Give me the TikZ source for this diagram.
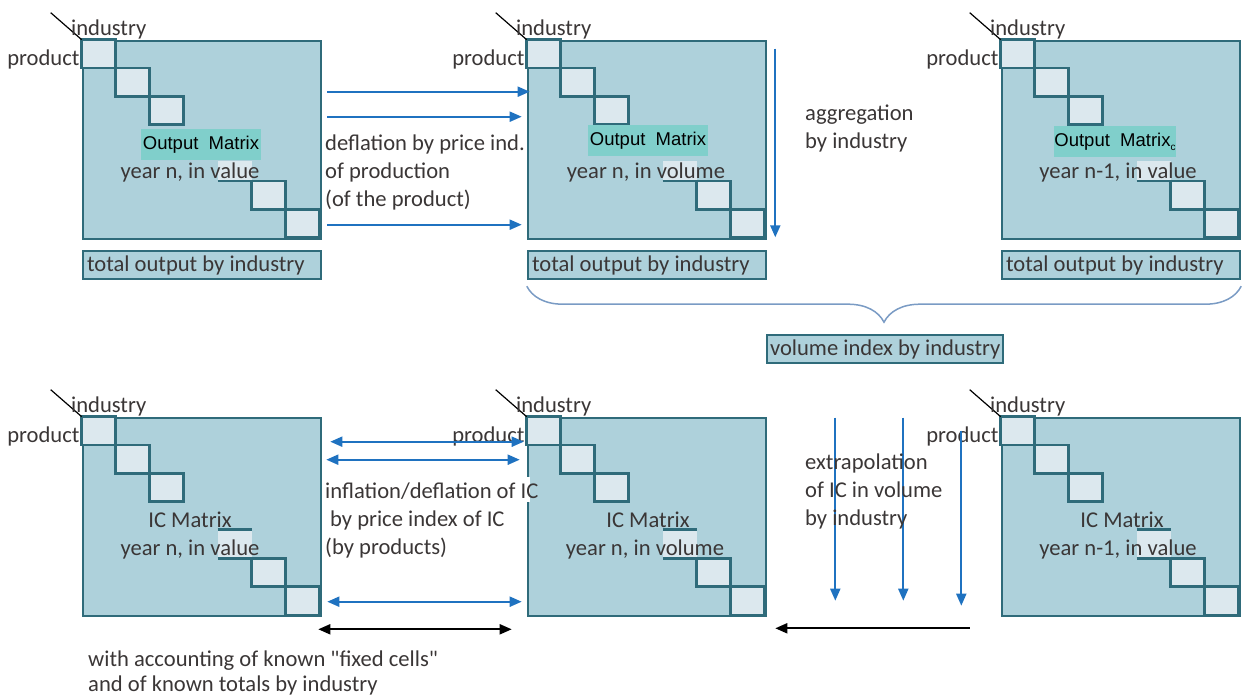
\documentclass[tikz,border=0pt]{standalone}
\usepackage{fontspec}
\setmainfont{Carlito}[Ligatures=TeXOff]
\newfontfamily\arialfont{Liberation Sans}
\usetikzlibrary{arrows.meta, positioning, calc, decorations.pathreplacing}

\definecolor{matfill}{HTML}{AED1DB}
\definecolor{matline}{HTML}{2F6B7A}
\definecolor{cellfill}{HTML}{DCE8EE}
\definecolor{tealbg}{HTML}{80CFCB}
\definecolor{arrblue}{HTML}{1F72C0}
\definecolor{bracecol}{HTML}{7A9BC4}
\definecolor{txt}{HTML}{3A3636}

\tikzset{
  mat/.style={draw=matline, fill=matfill, line width=2.6pt, minimum width=238pt, minimum height=198pt, inner sep=0pt},
  cell/.style={draw=matline, fill=cellfill, line width=2.6pt},
  cellline/.style={draw=matline, line width=2.6pt},
  totbox/.style={draw=matline, fill=matfill, line width=2.4pt, minimum height=28pt, inner xsep=4pt, inner ysep=0pt, text=txt},
  lbl/.style={text=txt, inner sep=0pt, yshift=-2pt},
  titlebg/.style={fill=tealbg, font=\arialfont\fontsize{18.5}{20}\selectfont, text=black, minimum width=120pt, minimum height=31pt, inner sep=0pt},
  bluearr/.style={arrblue, line width=2pt, -{Triangle[length=12pt,width=10pt]}},
  bluedbl/.style={arrblue, line width=2pt, {Triangle[length=12pt,width=10pt]}-{Triangle[length=12pt,width=10pt]}},
  blackdbl/.style={black, line width=2pt, {Triangle[length=12pt,width=10pt]}-{Triangle[length=12pt,width=10pt]}},
  blackarr/.style={black, line width=2pt, -{Triangle[length=12pt,width=10pt]}},
  bracebr/.style={bracecol, line width=1.5pt, decorate, decoration={brace, mirror, amplitude=36pt}},
}

% left aligned text in a box of fixed width
\newcommand{\boxtext}[2]{\makebox[#1][l]{#2}}

% diagonal cells of a matrix, #2 = top of the half hidden cell, #3 = style of its top edge
\newcommand{\diagcells}[3]{%
  \begin{scope}[shift={(#1.north west)}]
    \foreach \i in {0,1,2,5,6}
      \draw[cell] (34*\i,28.3*\i) rectangle (34*\i+34,28.3*\i+28.3);
    \fill[cellfill] (136,#2) rectangle (170,141.5);
    \draw[cellline] (136,141.5) -- (204,141.5);
    \draw[#3] (136,#2) -- (170,#2);
  \end{scope}}

% corner labels
\newcommand{\cornerlabels}[1]{%
  \draw[black, line width=1.2pt] (#1.north west) -- ++(-31,-27);
  \node[lbl] (#1ind) at ($(#1.north west)+(27,-12)$) {industry};
  \node[lbl, anchor=east] (#1prod) at ($(#1.north west)+(-2,18)$) {product};}

\begin{document}
\begin{tikzpicture}[x=1pt, y=-1pt, font=\fontsize{22.6}{28}\selectfont]
\useasboundingbox (0,0) rectangle (1243,695);

% output matrices
\node[mat] (om1) at (202,140) {};
\node[mat] (om2) at (647,140) {};
\node[mat] (om3) at (1121,140) {};
\foreach \m in {om1,om2,om3} {
  \diagcells{\m}{121}{draw=none}
  \cornerlabels{\m}
}
\node[titlebg] (om1t) at (201,145) {Output\ \ Matrix};
\node[titlebg] (om2t) at (648,141) {Output\ \ Matrix};
\node[titlebg] (om3t) at (1115,142) {Output\ \ Matrix\raisebox{-4pt}{\fontsize{10}{10}\selectfont c}};
\node[lbl] (om1y) at (190,170) {year n, in value};
\node[lbl] (om2y) at (646,170) {year n, in volume};
\node[lbl] (om3y) at (1118,170) {year n-1, in value};

% totals
\node[totbox] (ot1) at (202,265) {\boxtext{230pt}{total output by industry}};
\node[totbox] (ot2) at (647,265) {\boxtext{230pt}{total output by industry}};
\node[totbox] (ot3) at (1121,265) {\boxtext{230pt}{total output by industry}};

% deflation
\foreach \y/\e in {93/3,118/-5,226/-5}
  \draw[bluearr] ($(om1.north east)+(5,\y-41)$) -- ($(om2.north west)+(\e,\y-41)$);
\node[lbl, anchor=west, align=left] (defl) at (325,170) {deflation by price ind.\\of production\\(of the product)};

% aggregation
\draw[bluearr] ($(om2.north east)+(8,9)$) -- ($(om2.south east)+(8,-3)$);
\node[lbl, anchor=west, align=left] (aggr) at (805,127) {aggregation\\by industry};

% volume index
\draw[bracebr] ($(ot2.south west)+(0,6)$) -- ($(ot3.south east)+(0,6)$);
\node[totbox, inner xsep=3pt] (vol) at (885,349) {\boxtext{230pt}{volume index by industry}};

% IC matrices
\node[mat] (im1) at (202,517) {};
\node[mat] (im2) at (647,517) {};
\node[mat] (im3) at (1121,517) {};
\foreach \m in {im1,im2,im3} {
  \diagcells{\m}{113}{cellline}
  \cornerlabels{\m}
}
\node[lbl] (im1t) at (190,518) {IC Matrix};
\node[lbl] (im2t) at (648,518) {IC Matrix};
\node[lbl] (im3t) at (1122,518) {IC Matrix};
\node[lbl] (im1y) at (190,547) {year n, in value};
\node[lbl] (im2y) at (645,547) {year n, in volume};
\node[lbl] (im3y) at (1118,547) {year n-1, in value};

% inflation / deflation of IC
\foreach \y/\s/\e in {443/8/-3,461/4/-7,603/5/-5}
  \draw[bluedbl] ($(im1.north east)+(\s,\y-418)$) -- ($(im2.north west)+(\e,\y-418)$);
\draw[blackdbl] ($(im1.south east)+(-4,12)$) -- ($(im2.south west)+(-15,12)$);
\fill[white] (525,477) rectangle (530,502);
\node[lbl, anchor=west, align=left] (infl) at (325,518) {inflation/deflation of IC\\\hspace{5pt}by price index of IC\\(by products)};

% extrapolation
\foreach \dx/\a/\b in {68/1/184,136/1/184,194/14/189}
  \draw[bluearr] ($(im2.north east)+(\dx,\a)$) -- ($(im2.north east)+(\dx,\b)$);
\draw[blackarr] ($(im3.south west)+(-31,11)$) -- ($(im2.south east)+(8,11)$);
\node[lbl, anchor=west, align=left] (extr) at (805,489) {extrapolation\\of IC in volume\\by industry};

\node[lbl, anchor=west, align=left, font=\fontsize{22.6}{25}\selectfont] (note) at (88,671) {with accounting of known "fixed cells"\\and of known totals by industry};
\end{tikzpicture}
\end{document}
